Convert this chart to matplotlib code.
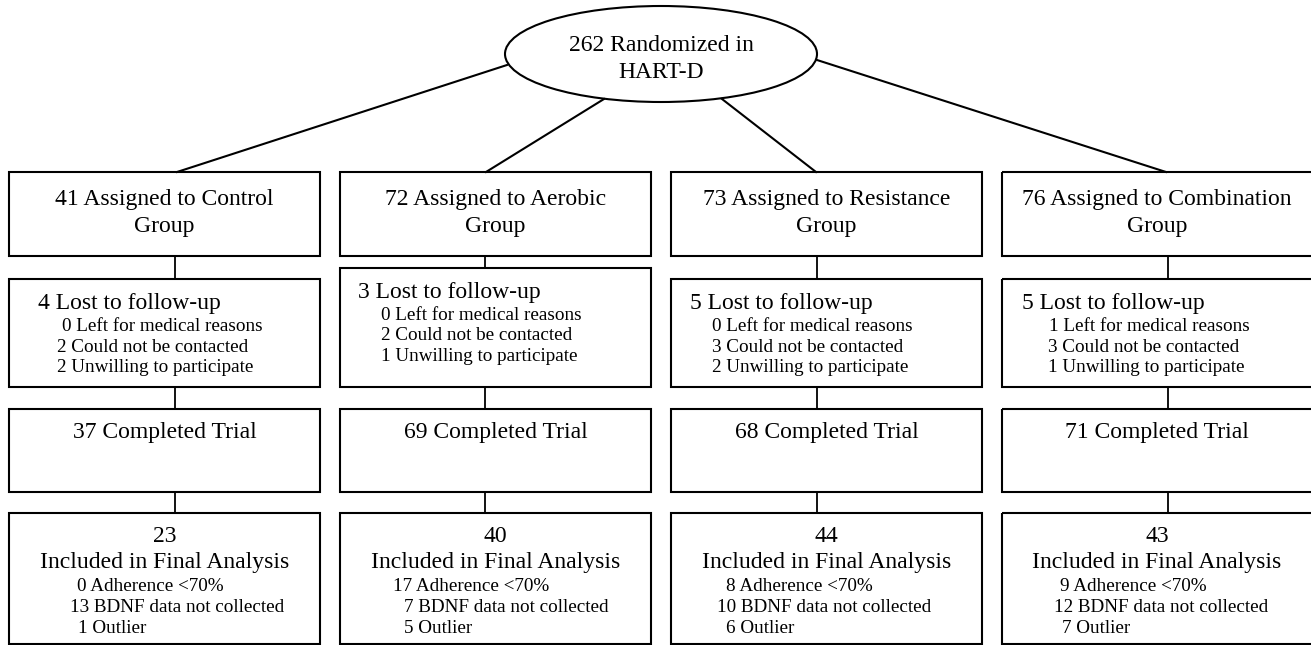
import matplotlib.pyplot as plt
from matplotlib.patches import Rectangle, Ellipse

plt.rcParams['font.family'] = ['Liberation Serif', 'DejaVu Serif']

# data
total = 262
groups = ['Control', 'Aerobic', 'Resistance', 'Combination']
assigned = [41, 72, 73, 76]
lost = [4, 3, 5, 5]
left_medical = [0, 0, 0, 1]
not_contacted = [2, 2, 3, 3]
unwilling = [2, 1, 2, 1]
completed = [37, 69, 68, 71]
included = [23, 40, 44, 43]
adherence = [0, 17, 8, 9]
bdnf = [13, 7, 10, 12]
outlier = [1, 5, 6, 7]

# layout (pixels, y down)
box_l = [9, 340, 671, 1002]
box_r = [320, 651, 982, 1314]
box_cx = [164.5, 495.5, 826.5, 1157]
conn_x = [175, 485, 817, 1168]
row2_top = [279, 268, 279, 279]
lost_x = [38, 358, 690, 1022]
med_x = [62, 381, 712, 1049]
cont_x = [57, 381, 712, 1048]
unw_x = [57, 381, 712, 1048]
adh_x = [77, 393, 726, 1060]
bdnf_x = [70, 404, 717, 1054]
out_x = [78, 404, 726, 1062]
start_pts = [(507, 65), (604, 99), (722, 99), (817, 60)]
end_x = [177, 486, 816, 1166]

BIG = 17
SMALL = 13.8
LW = 1.5

fig = plt.figure(figsize=(13.11, 6.45), dpi=100)
ax = fig.add_axes([0, 0, 1, 1])
ax.set_xlim(0, 1311)
ax.set_ylim(645, 0)
ax.axis('off')


def box(x0, x1, y0, y1):
    ax.add_patch(Rectangle((x0, y0), x1 - x0, y1 - y0, fill=False,
                           edgecolor='black', lw=LW))


def vline(x, y0, y1):
    ax.plot([x, x], [y0, y1], color='black', lw=1.3)


def txt(x, y, s, size, ha='left'):
    ax.text(x, y, s, ha=ha, va='baseline', fontsize=size, color='black')


# top ellipse
ax.add_patch(Ellipse((661, 54), 312, 96, fill=False, edgecolor='black', lw=LW))
txt(661, 51, f'{total} Randomized in', BIG, 'center')
txt(661, 78, 'HART-D', BIG, 'center')

for i in range(4):
    (sx, sy) = start_pts[i]
    ax.plot([sx, end_x[i]], [sy, 172], color='black', lw=LW)
    cx = box_cx[i]

    # assigned
    box(box_l[i], box_r[i], 172, 256)
    txt(cx, 205, f'{assigned[i]} Assigned to {groups[i]}', BIG, 'center')
    txt(cx, 232, 'Group', BIG, 'center')
    vline(conn_x[i], 256, row2_top[i])

    # lost to follow-up
    t = row2_top[i]
    box(box_l[i], box_r[i], t, 387)
    txt(lost_x[i], t + 30, f'{lost[i]} Lost to follow-up', BIG)
    txt(med_x[i], t + 52, f'{left_medical[i]} Left for medical reasons', SMALL)
    txt(cont_x[i], t + 72.5, f'{not_contacted[i]} Could not be contacted', SMALL)
    txt(unw_x[i], t + 93, f'{unwilling[i]} Unwilling to participate', SMALL)
    vline(conn_x[i], 387, 409)

    # completed
    box(box_l[i], box_r[i], 409, 492)
    txt(cx, 438, f'{completed[i]} Completed Trial', BIG, 'center')
    vline(conn_x[i], 492, 513)

    # final analysis
    box(box_l[i], box_r[i], 513, 643.5)
    txt(cx, 542, f'{included[i]}', BIG, 'center')
    txt(cx, 568, 'Included in Final Analysis', BIG, 'center')
    txt(adh_x[i], 591, f'{adherence[i]} Adherence <70%', SMALL)
    txt(bdnf_x[i], 612, f'{bdnf[i]} BDNF data not collected', SMALL)
    txt(out_x[i], 633, f'{outlier[i]} Outlier', SMALL)

fig.savefig('out.png', dpi=100)
